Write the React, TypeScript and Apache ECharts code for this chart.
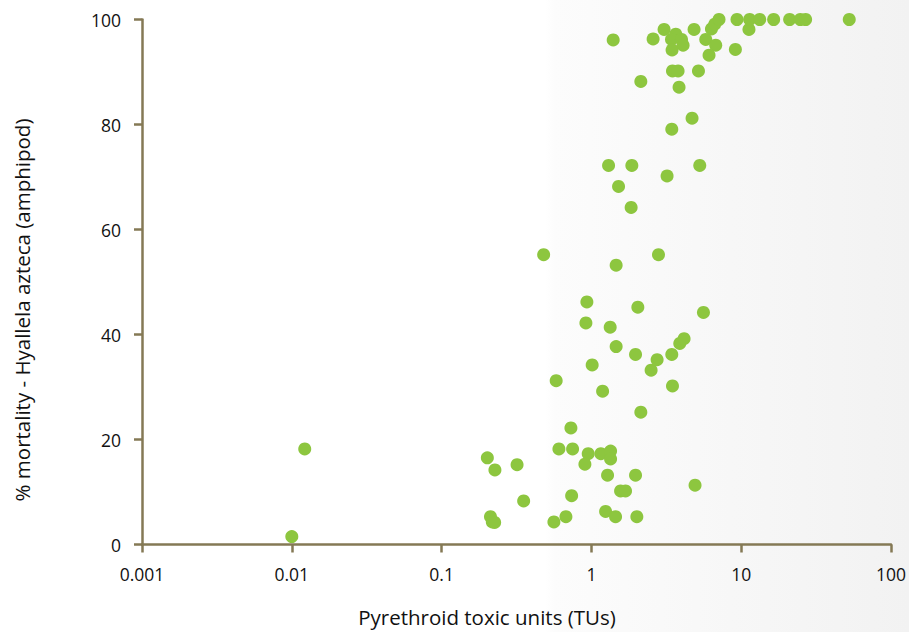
import React, { useEffect, useRef } from "react";
import * as echarts from "echarts";

const toxicUnits = [
  0.01, 0.0122, 0.202, 0.227, 0.319, 0.353, 0.212, 0.218, 0.226, 0.48,
  0.582, 0.607, 0.562, 0.676, 0.73, 0.749, 0.738, 0.933, 0.919, 1.012,
  0.952, 0.905, 1.188, 1.157, 1.343, 1.343, 1.282, 1.244, 1.45, 1.566,
  1.69, 1.971, 2.011, 2.138, 4.92, 1.335, 1.463, 1.971, 2.042, 2.504,
  2.746, 3.441, 3.478, 3.89, 4.157, 5.598, 1.463, 2.805, 1.302, 1.862,
  5.289, 3.201, 1.518, 1.842, 2.138, 3.848, 4.699, 3.441, 3.478, 3.791,
  5.185, 1.398, 2.582, 3.057, 3.659, 3.425, 3.994, 4.093, 3.457, 4.846,
  5.799, 6.761, 6.101, 6.33, 6.659, 7.112, 9.376, 9.148, 11.27, 11.39,
  13.29, 16.47, 21.06, 24.81, 26.92, 52.65,
];

const mortality = [
  1.5, 18.2, 16.5, 14.2, 15.2, 8.3, 5.3, 4.3, 4.2, 55.2,
  31.2, 18.2, 4.3, 5.3, 22.2, 18.2, 9.3, 46.2, 42.2, 34.2,
  17.3, 15.3, 29.2, 17.3, 17.8, 16.3, 13.2, 6.3, 5.3, 10.2,
  10.2, 13.2, 5.3, 25.2, 11.3, 41.4, 37.7, 36.2, 45.2, 33.2,
  35.2, 36.2, 30.2, 38.3, 39.2, 44.2, 53.2, 55.2, 72.2, 72.2,
  72.2, 70.2, 68.2, 64.2, 88.2, 87.1, 81.2, 79.1, 90.2, 90.2,
  90.2, 96.1, 96.3, 98.1, 97.2, 96.2, 96.2, 95.1, 94.2, 98.1,
  96.2, 95.1, 93.2, 98.2, 99.1, 100, 100, 94.3, 98.1, 100,
  100, 100, 100, 100, 100, 100,
];

const xTickLabels = ["0.001", "0.01", "0.1", "1", "10", "100"];
const yTickValues = [0, 20, 40, 60, 80, 100];

const xAxisTitle = "Pyrethroid toxic units (TUs)";
const yAxisTitle = "% mortality - Hyallela azteca (amphipod)";

const AXIS_COLOR = "#847955";
const POINT_COLOR = "#8DC63F";
const TEXT_COLOR = "#111111";
const FONT = "'Open Sans', 'Noto Sans', sans-serif";

export default function App() {
  const ref = useRef<HTMLDivElement>(null);

  useEffect(() => {
    document.body.style.margin = "0";
    if (!ref.current) return;
    const chart = echarts.init(ref.current, null, { renderer: "svg" });
    const points = toxicUnits.map((x, i) => [x, mortality[i]]);

    chart.setOption({
      animation: false,
      backgroundColor: "transparent",
      textStyle: { fontFamily: FONT },
      graphic: [
        {
          type: "rect",
          z: -10,
          silent: true,
          shape: { x: 0, y: 0, width: 909, height: 632 },
          style: {
            fill: new echarts.graphic.LinearGradient(0, 0, 1, 0, [
              { offset: 0, color: "#ffffff" },
              { offset: 0.6, color: "#ffffff" },
              { offset: 0.61, color: "#fcfcfc" },
              { offset: 1, color: "#f2f2f2" },
            ]),
          },
        },
        {
          type: "text",
          x: 487,
          y: 617,
          style: {
            text: xAxisTitle,
            fontFamily: FONT,
            fontSize: 20.5,
            fill: TEXT_COLOR,
            textAlign: "center",
            textVerticalAlign: "middle",
          },
        },
        {
          type: "text",
          x: 22,
          y: 310,
          rotation: Math.PI / 2,
          style: {
            text: yAxisTitle,
            fontFamily: FONT,
            fontSize: 20.5,
            fill: TEXT_COLOR,
            textAlign: "center",
            textVerticalAlign: "middle",
          },
        },
      ],
      grid: { left: 142, right: 17, top: 19.5, bottom: 87.5, containLabel: false },
      xAxis: {
        type: "log",
        logBase: 10,
        min: 0.001,
        max: 100,
        axisLine: { show: true, lineStyle: { color: AXIS_COLOR, width: 2.5 } },
        axisTick: { show: true, length: 8, lineStyle: { color: AXIS_COLOR, width: 2.5 } },
        minorTick: { show: false },
        splitLine: { show: false },
        axisLabel: {
          margin: 20,
          fontSize: 17.5,
          fontFamily: FONT,
          color: TEXT_COLOR,
          formatter: (v: number) => xTickLabels[Math.round(Math.log10(v)) + 3] ?? "",
        },
      },
      yAxis: {
        type: "value",
        min: yTickValues[0],
        max: yTickValues[yTickValues.length - 1],
        interval: 20,
        axisLine: { show: true, lineStyle: { color: AXIS_COLOR, width: 2.5 } },
        axisTick: { show: true, length: 8, lineStyle: { color: AXIS_COLOR, width: 2.5 } },
        splitLine: { show: false },
        axisLabel: {
          margin: 21,
          fontSize: 17.5,
          fontFamily: FONT,
          color: TEXT_COLOR,
        },
      },
      series: [
        {
          type: "scatter",
          data: points,
          symbol: "circle",
          symbolSize: 13,
          clip: false,
          itemStyle: { color: POINT_COLOR, opacity: 1 },
        },
      ],
    });

    return () => chart.dispose();
  }, []);

  return <div ref={ref} style={{ width: 909, height: 632 }} />;
}
